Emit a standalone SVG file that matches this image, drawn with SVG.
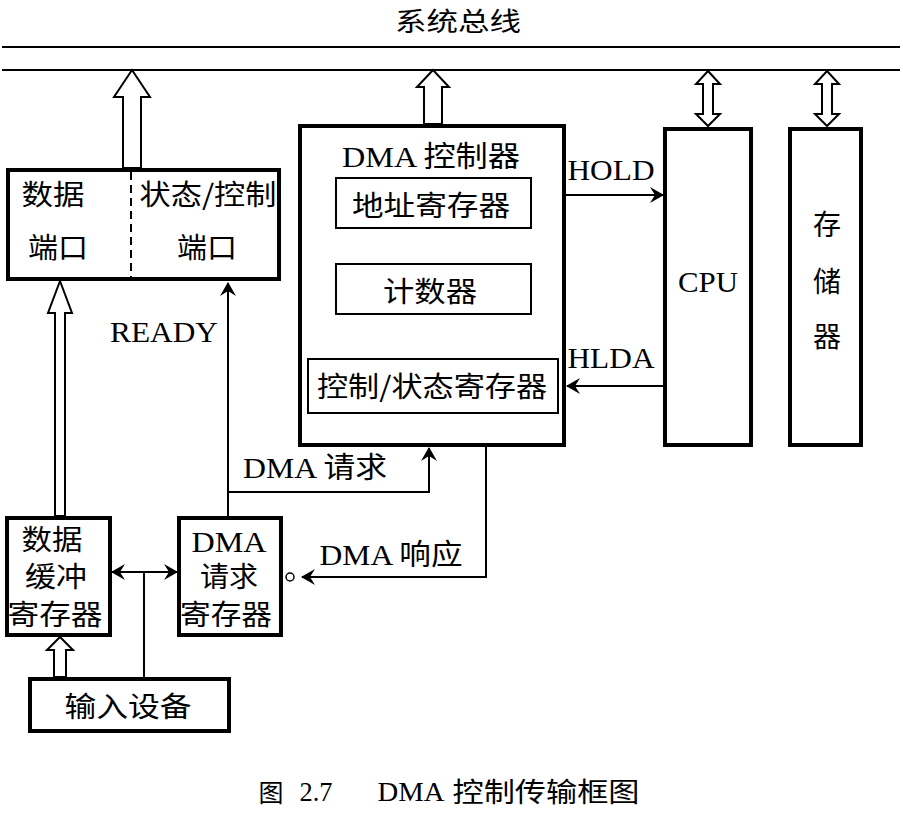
<svg xmlns="http://www.w3.org/2000/svg" width="903" height="821" viewBox="0 0 903 821">
  <style>
    .box { fill: #fff; stroke: #000; stroke-width: 4; }
    .inner { fill: none; stroke: #000; stroke-width: 2; }
    .bus { stroke: #000; stroke-width: 2; fill: none; }
    .hollow { fill: #fff; stroke: #000; stroke-width: 2; stroke-linejoin: miter; }
    .wire { fill: none; stroke: #000; stroke-width: 2; }
    .arrow { marker-end: url(#head); }
    text { font-family: "Liberation Serif", "Noto Sans CJK SC", serif; fill: #000; text-anchor: middle; }
    .cjk { font-family: "Noto Sans CJK SC", sans-serif; font-size: 28px; }
    .lat { font-size: 29px; }
  </style>
  <defs>
    <marker id="head" viewBox="-16 -9 18 18" refX="0" refY="0" markerWidth="18" markerHeight="18" markerUnits="userSpaceOnUse" orient="auto-start-reverse">
      <path d="M1,0 L-13,-8 L-8,0 L-13,8 Z" fill="#000"/>
    </marker>
  </defs>
  <rect width="903" height="821" fill="#fff"/>

  <!-- system bus -->
  <g id="bus">
    <text class="cjk" x="458" y="31" style="font-size:26px" textLength="126" lengthAdjust="spacingAndGlyphs">系统总线</text>
    <line class="bus" x1="2" y1="47" x2="900" y2="47"/>
    <line class="bus" x1="2" y1="70" x2="900" y2="70"/>
  </g>

  <!-- wide bus arrows -->
  <g id="bus-arrows">
    <polygon class="hollow" points="132,70 150,97 141,97 141,168 123,168 123,97 114,97"/>
    <polygon class="hollow" points="433,70 449,87 442,87 442,124 424,124 424,87 417,87"/>
    <polygon class="hollow" points="708,71 720,84 713,84 713,114 720,114 708,126 696,114 703,114 703,84 696,84"/>
    <polygon class="hollow" points="827,71 839,84 832,84 832,114 839,114 827,126 815,114 822,114 822,84 815,84"/>
    <polygon class="hollow" points="60,281 72,313 65,313 65,516 55,516 55,313 48,313"/>
    <polygon class="hollow" points="60,637 73,650 66,650 66,677 54,677 54,650 47,650"/>
  </g>

  <!-- interface ports -->
  <g id="ports">
    <rect class="box" x="8" y="170" width="271" height="109"/>
    <line x1="131" y1="172" x2="131" y2="277" stroke="#000" stroke-width="2" stroke-dasharray="8,5"/>
    <text class="cjk" x="53" y="205" textLength="63" lengthAdjust="spacingAndGlyphs">数据</text>
    <text class="cjk" x="58" y="258" textLength="60" lengthAdjust="spacingAndGlyphs">端口</text>
    <text class="cjk" x="208" y="205" textLength="137" lengthAdjust="spacingAndGlyphs">状态/控制</text>
    <text class="cjk" x="207" y="258" textLength="60" lengthAdjust="spacingAndGlyphs">端口</text>
  </g>

  <!-- DMA controller -->
  <g id="dma-controller">
    <rect class="box" x="300" y="126" width="264" height="319"/>
    <text class="lat" x="431" y="167" textLength="178" lengthAdjust="spacingAndGlyphs">DMA 控制器</text>
    <rect class="inner" x="336" y="178" width="195" height="50"/>
    <text class="cjk" x="431" y="216" textLength="158" lengthAdjust="spacingAndGlyphs">地址寄存器</text>
    <rect class="inner" x="336" y="264" width="195" height="50"/>
    <text class="cjk" x="430" y="302" textLength="94" lengthAdjust="spacingAndGlyphs">计数器</text>
    <rect class="inner" x="308" y="359" width="250" height="54"/>
    <text class="cjk" x="432" y="397" textLength="230" lengthAdjust="spacingAndGlyphs">控制/状态寄存器</text>
  </g>

  <!-- CPU -->
  <g id="cpu">
    <rect class="box" x="665" y="129" width="86" height="316"/>
    <text class="lat" x="708" y="292" textLength="60" lengthAdjust="spacingAndGlyphs">CPU</text>
  </g>

  <!-- memory -->
  <g id="memory">
    <rect class="box" x="790" y="129" width="71" height="316"/>
    <text class="cjk" x="827" y="235">存</text>
    <text class="cjk" x="827" y="292">储</text>
    <text class="cjk" x="827" y="347">器</text>
  </g>

  <!-- data buffer register -->
  <g id="data-buffer">
    <rect class="box" x="7" y="518" width="103" height="117"/>
    <text class="cjk" x="52" y="550" textLength="61" lengthAdjust="spacingAndGlyphs">数据</text>
    <text class="cjk" x="56" y="587" textLength="62" lengthAdjust="spacingAndGlyphs">缓冲</text>
    <text class="cjk" x="55" y="625" textLength="95" lengthAdjust="spacingAndGlyphs">寄存器</text>
  </g>

  <!-- DMA request register -->
  <g id="dma-request-register">
    <rect class="box" x="179" y="518" width="102" height="117"/>
    <text class="lat" x="229" y="552" textLength="75" lengthAdjust="spacingAndGlyphs" style="font-size:30px">DMA</text>
    <text class="cjk" x="229" y="587" textLength="58" lengthAdjust="spacingAndGlyphs">请求</text>
    <text class="cjk" x="226" y="625" textLength="92" lengthAdjust="spacingAndGlyphs">寄存器</text>
  </g>

  <!-- input device -->
  <g id="input-device">
    <rect class="box" x="30" y="679" width="199" height="52"/>
    <text class="cjk" x="128" y="717" textLength="127" lengthAdjust="spacingAndGlyphs">输入设备</text>
  </g>

  <!-- control lines -->
  <g id="connectors">
    <line class="wire arrow" x1="566" y1="195" x2="663" y2="195"/>
    <text class="lat" x="611" y="180" textLength="87" lengthAdjust="spacingAndGlyphs">HOLD</text>
    <line class="wire arrow" x1="663" y1="386" x2="567" y2="386"/>
    <text class="lat" x="611" y="368" textLength="87" lengthAdjust="spacingAndGlyphs">HLDA</text>
    <line class="wire arrow" x1="228" y1="516" x2="228" y2="283"/>
    <text class="lat" x="164" y="342" textLength="108" lengthAdjust="spacingAndGlyphs">READY</text>
    <polyline class="wire arrow" points="228,492 429,492 429,448"/>
    <text class="lat" x="315" y="478" textLength="144" lengthAdjust="spacingAndGlyphs">DMA 请求</text>
    <polyline class="wire arrow" points="486,447 486,577 302,577"/>
    <circle cx="290" cy="577" r="4" fill="#fff" stroke="#000" stroke-width="1.5"/>
    <text class="lat" x="391" y="565" textLength="143" lengthAdjust="spacingAndGlyphs">DMA 响应</text>
    <line class="wire" x1="112" y1="572" x2="177" y2="572" marker-start="url(#head)" marker-end="url(#head)"/>
    <line class="wire" x1="144" y1="572" x2="144" y2="677"/>
  </g>

  <!-- caption -->
  <g id="caption">
    <text class="cjk" x="271" y="802" style="font-size:25px">图</text>
    <text x="316" y="801" style="font-size:27px" textLength="33" lengthAdjust="spacingAndGlyphs">2.7</text>
    <text x="411" y="801" style="font-size:27px" textLength="67" lengthAdjust="spacingAndGlyphs">DMA</text>
    <text class="cjk" x="546" y="802" style="font-size:27px" textLength="187" lengthAdjust="spacingAndGlyphs">控制传输框图</text>
  </g>
</svg>
